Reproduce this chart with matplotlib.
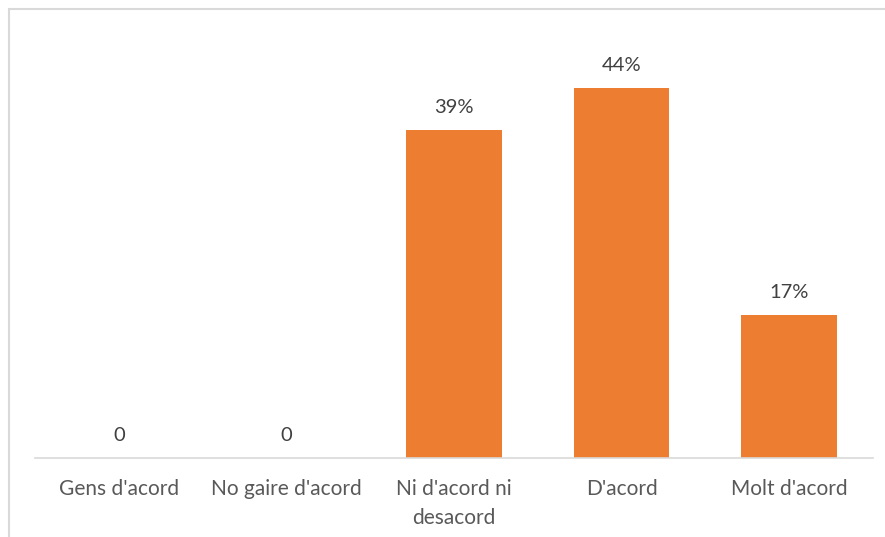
import matplotlib
matplotlib.use("Agg")
import matplotlib.pyplot as plt
from matplotlib.patches import Rectangle

categories = ["Gens d'acord", "No gaire d'acord", "Ni d'acord ni\ndesacord", "D'acord", "Molt d'acord"]
values = [0, 0, 39, 44, 17]
value_labels = ["0", "0", "39%", "44%", "17%"]

plt.rcParams['font.family'] = ['Lato', 'DejaVu Sans']

W, H = 885, 537
fig = plt.figure(figsize=(W / 100, H / 100), dpi=100)

# chart frame, only top and left edges fall inside the picture
fig.patches.append(Rectangle((9 / W, -0.1), 1.2, 1.1 - 9 / H, transform=fig.transFigure,
                             fill=False, edgecolor='#d9d9d9', linewidth=1.5))

left, right = 35 / W, 873 / W
bottom, top = 1 - 458 / H, 1 - 20 / H
ax = fig.add_axes([left, bottom, right - left, top - bottom])

x = range(len(categories))
bars = ax.bar(x, values, width=0.57, color='#ed7d31')

ax.set_xlim(-0.5, len(categories) - 0.5)
ax.set_ylim(0, 52.1)
ax.set_xticks(list(x))
ax.set_xticklabels(categories, fontsize=15, color='#595959', linespacing=1.55)
ax.tick_params(axis='x', length=0, pad=15)
ax.set_yticks([])
for s in ['top', 'right', 'left']:
    ax.spines[s].set_visible(False)
ax.spines['bottom'].set_color('#d9d9d9')
ax.spines['bottom'].set_linewidth(1.2)

for xi, v, lab in zip(x, values, value_labels):
    ax.annotate(lab, (xi, v), xytext=(0, 10), textcoords='offset points',
                ha='center', va='bottom', fontsize=14.5, color='#404040')

fig.savefig('out.png', dpi=100)
